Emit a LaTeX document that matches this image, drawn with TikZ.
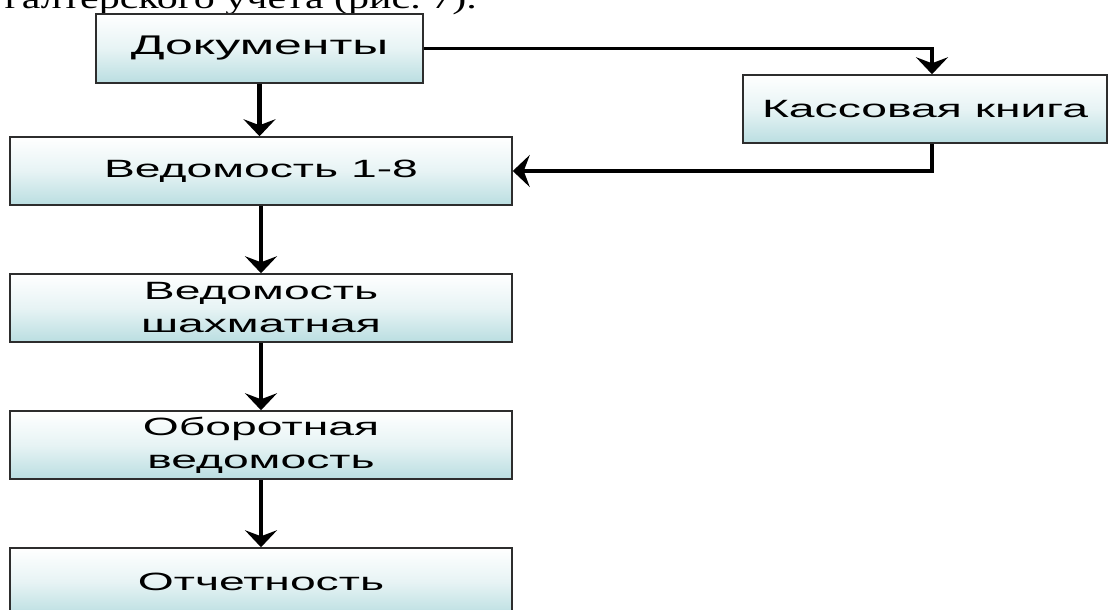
\documentclass[tikz,border=0pt]{standalone}
\usepackage{fontspec}
\usetikzlibrary{arrows.meta}

% Wide sans face for the block labels, serif for the running text line
\newfontfamily\boxfont[FakeStretch=1.85]{Liberation Sans}
\newfontfamily\bodyfont[FakeStretch=1.4]{Liberation Serif}

\definecolor{boxteal}{RGB}{186,222,225}
\definecolor{boxline}{RGB}{45,45,45}

\tikzset{
  block/.style={draw=boxline, line width=1.5pt,
    top color=white, bottom color=boxteal, middle color=boxteal!35!white,
    align=center, inner sep=0pt,
    font=\boxfont\fontsize{25}{33}\selectfont},
  conn/.style={line width=4.5pt, black,
    -{Stealth[length=17pt, width=32pt, inset=6pt]}},
  hconn/.style={conn, line width=3.5pt},
}

\begin{document}
\begin{tikzpicture}[x=1pt, y=-1pt]
\useasboundingbox (0,0) rectangle (1109,610);
\begin{scope}
\clip (0,0) rectangle (1109,610);

% tail of the text line above the scheme
\node[font=\bodyfont\fontsize{30}{34}\selectfont, anchor=base east, inner sep=0pt]
  (caption) at (477,9) {галтерского учета (рис.~7).};

% blocks
\node[block, minimum width=327, minimum height=69,
      font=\boxfont\fontsize{27}{33}\selectfont] (docs) at (259.5,48.5) {Документы};
\node[block, minimum width=364, minimum height=68] (kassa) at (925,109) {Кассовая книга};
\node[block, minimum width=502, minimum height=68] (ved18) at (261,171) {Ведомость 1-8};
\node[block, minimum width=502, minimum height=68] (shakh) at (261,308) {Ведомость\\шахматная};
\node[block, minimum width=502, minimum height=68] (obor) at (261,445) {Оборотная\\ведомость};
\node[block, minimum width=502, minimum height=68] (otch) at (261,582) {Отчетность};

% connectors
\draw[conn] (docs.south) -- (docs.south |- ved18.north);
\draw[hconn] (docs.east) -| ([xshift=7pt]kassa.north);
\draw[hconn] ([xshift=7pt]kassa.south) |- (ved18.east);
\draw[conn] (ved18.south) -- (shakh.north);
\draw[conn] (shakh.south) -- (obor.north);
\draw[conn] (obor.south) -- (otch.north);
\end{scope}
\end{tikzpicture}
\end{document}
